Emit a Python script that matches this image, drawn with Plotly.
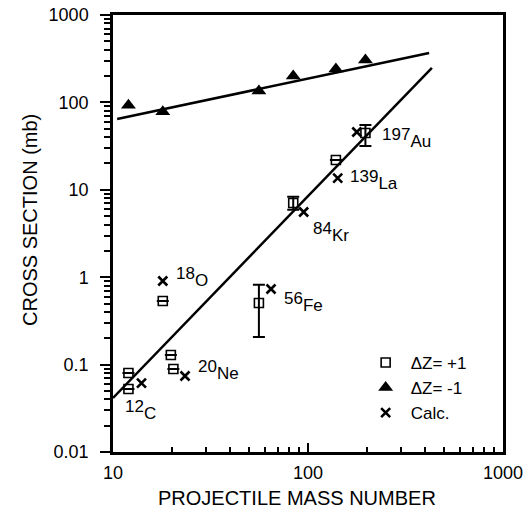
import numpy as np
import plotly.graph_objects as go

# ---- data ----
sq_mass = [12, 12, 18, 19.8, 20.4, 56, 84, 139, 197]
sq_sigma = [0.080, 0.0526, 0.535, 0.129, 0.089, 0.507, 7.06, 21.9, 44.7]
sq_err_plus = [0, 0, 0, 0, 0, 0.31, 1.24, 0, 10.3]
sq_err_minus = [0, 0, 0, 0, 0, 0.30, 1.16, 0, 13.0]

tri_mass = [12, 18, 56, 84, 139, 197]
tri_sigma = [93, 78, 135, 200, 241, 305]

calc_mass = [14, 23.4, 18, 64.6, 95, 142, 178]
calc_sigma = [0.0615, 0.074, 0.905, 0.733, 5.57, 13.6, 45.8]

fit_up_x = [10.5, 418]
fit_up_y = [64.6, 367]
fit_lo_x = [10, 432]
fit_lo_y = [0.0415, 248]

label_text = ["197", "139", "84", "18", "56", "20", "12"]
label_sym = ["Au", "La", "Kr", "O", "Fe", "Ne", "C"]
label_x = [233, 160, 103.5, 20.6, 73.6, 26.7, 11.25]
label_y = [39.2, 12.9, 3.29, 1.0, 0.52, 0.0867, 0.0303]

y_tickvals = [0.01, 0.1, 1, 10, 100, 1000]
y_ticktext = ["0.01", "0.1", "1", "10", "100", "1000"]
x_tickvals = [10, 100, 1000]
x_ticktext = ["10", "100", "1000"]

FONT = "Liberation Sans, Arial, sans-serif"
fig = go.Figure()

fig.add_trace(go.Scatter(x=sq_mass, y=sq_sigma, mode="markers", name="\u0394Z= +1",
                         marker=dict(symbol="square-open", size=9, color="black", line=dict(width=1.6)),
                         error_y=dict(type="data", array=sq_err_plus, arrayminus=sq_err_minus,
                                      symmetric=False, color="black", thickness=2, width=6)))
fig.add_trace(go.Scatter(x=tri_mass, y=tri_sigma, mode="markers", name="\u0394Z= -1",
                         marker=dict(symbol="triangle-up", size=13, color="black")))
fig.add_trace(go.Scatter(x=calc_mass, y=calc_sigma, mode="markers", name="Calc.",
                         marker=dict(symbol="x-thin-open", size=9, color="black",
                                     line=dict(width=2.6, color="black"))))
fig.add_trace(go.Scatter(x=fit_up_x, y=fit_up_y, mode="lines", showlegend=False,
                         line=dict(color="black", width=2.5)))
fig.add_trace(go.Scatter(x=fit_lo_x, y=fit_lo_y, mode="lines", showlegend=False,
                         line=dict(color="black", width=2.5)))

for t, s, x, y in zip(label_text, label_sym, label_x, label_y):
    fig.add_annotation(x=np.log10(x), y=np.log10(y), xref="x", yref="y",
                       text=f"<sup><span style='font-size:17px'>{t}</span></sup>{s}",
                       showarrow=False, xanchor="left", yanchor="middle",
                       font=dict(family=FONT, size=17, color="black"))

# axis titles as annotations (placed as in the reference, given in pixels)
L, R, T, B = 113, 24, 15, 69
PW, PH = 527 - L - R, 521 - T - B
fig.add_annotation(x=(30 - L) / PW, y=(521 - B - 220) / PH, xref="paper", yref="paper",
                   text="CROSS SECTION (mb)", textangle=-90, showarrow=False,
                   xanchor="center", yanchor="middle",
                   font=dict(family=FONT, size=20, color="black"))
fig.add_annotation(x=(297 - L) / PW, y=(521 - B - 498) / PH, xref="paper", yref="paper",
                   text="PROJECTILE MASS NUMBER", showarrow=False,
                   xanchor="center", yanchor="middle",
                   font=dict(family=FONT, size=20, color="black"))

fig.update_xaxes(type="log", range=[1, 3], tickvals=x_tickvals, ticktext=x_ticktext,
                 ticks="inside", ticklen=9, tickwidth=2, tickcolor="black",
                 minor=dict(ticks="inside", ticklen=5, tickwidth=1.5, tickcolor="black",
                            dtick="D1", showgrid=False),
                 showline=True, linewidth=2.5, linecolor="black", mirror=True,
                 showgrid=False, zeroline=False, ticklabelstandoff=3,
                 tickfont=dict(family=FONT, size=18, color="black"))
fig.update_yaxes(type="log", range=[-2, 3], tickvals=y_tickvals, ticktext=y_ticktext,
                 ticks="outside", ticklen=10, tickwidth=2, tickcolor="black",
                 minor=dict(ticks="outside", ticklen=6, tickwidth=1.5, tickcolor="black",
                            dtick="D1", showgrid=False),
                 showline=True, linewidth=2.5, linecolor="black", mirror=True,
                 showgrid=False, zeroline=False, ticklabelstandoff=8,
                 tickfont=dict(family=FONT, size=18, color="black"))

fig.update_layout(width=527, height=521, margin=dict(l=L, r=R, t=T, b=B, autoexpand=False),
                  paper_bgcolor="white", plot_bgcolor="white",
                  showlegend=True,
                  legend=dict(x=0.635, y=0.245, xanchor="left", yanchor="top",
                              bgcolor="rgba(0,0,0,0)", borderwidth=0,
                              font=dict(family=FONT, size=17, color="black"),
                              itemwidth=40, tracegroupgap=0))

fig.write_html("out.html")
